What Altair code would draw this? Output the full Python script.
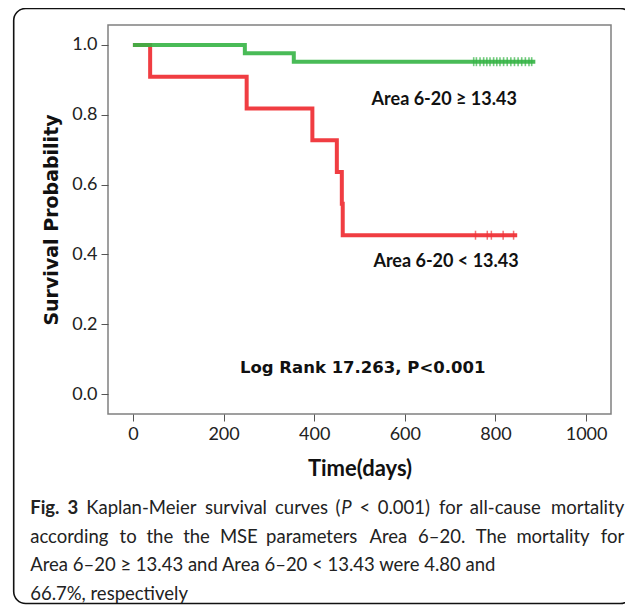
import altair as alt
import pandas as pd

# ---- data ----
green_times = [0, 247, 355, 888]
green_surv = [1.0, 0.976, 0.952, 0.952]
red_times = [0, 38, 251, 396, 450, 461, 463, 848]
red_surv = [1.0, 0.909, 0.818, 0.727, 0.636, 0.545, 0.455, 0.455]
green_censor = [752, 758, 766, 774, 781, 788, 796, 803, 810, 818, 826, 834, 842, 850, 858, 866, 874, 880]
red_censor = [756, 782, 791, 817, 840]
group_labels = ["Area 6-20 \u2265 13.43", "Area 6-20 < 13.43"]
group_colors = ["#35B445", "#EF3338"]
label_times = [687, 691]
label_surv = [0.842, 0.379]
x_ticks = [0, 200, 400, 600, 800, 1000]
y_ticks = [0.0, 0.2, 0.4, 0.6, 0.8, 1.0]
stat_text = "Log Rank 17.263, P<0.001"
stat_pos = [507, 0.075]
caption_line1 = "Fig. 3 Kaplan-Meier survival curves (P < 0.001) for all-cause mortality"
caption_line2 = "according to the the MSE parameters Area 6\u201320. The mortality for"
caption_line3 = "Area 6\u201320 \u2265 13.43 and Area 6\u201320 < 13.43 were 4.80 and"
caption_line4 = "66.7%, respectively"

W, H = 503, 389

green_df = pd.DataFrame({"t": green_times, "s": green_surv})
red_df = pd.DataFrame({"t": red_times, "s": red_surv})
gc_df = pd.DataFrame({"t": green_censor, "s": [green_surv[-1]] * len(green_censor)})
rc_df = pd.DataFrame({"t": red_censor, "s": [red_surv[-1]] * len(red_censor)})
lab_df = pd.DataFrame({"t": label_times, "s": label_surv, "label": group_labels})
stat_df = pd.DataFrame({"t": [stat_pos[0]], "s": [stat_pos[1]], "label": [stat_text]})
one = pd.DataFrame({"a": [0]})

xs = alt.Scale(domain=[-55, 1055], nice=False, zero=False)
ys = alt.Scale(domain=[-0.057, 1.057], nice=False, zero=False)
x_axis = alt.Axis(values=x_ticks, format="d", title="Time(days)", titleFont="Lato",
                  titleFontSize=22, titleFontWeight="bold", titleX=W / 2, titleY=54,
                  titleBaseline="middle", titleColor="#111", labelFont="Lato",
                  labelFontSize=18, labelColor="#222", labelPadding=4, labelFlush=False,
                  tickSize=7, tickColor="#555", domain=False, grid=False)
y_axis = alt.Axis(values=y_ticks, format=".1f", title="Survival Probability",
                  titleFont="DejaVu Sans", titleFontSize=19, titleFontWeight="bold",
                  titleAngle=270, titleX=-57, titleY=H / 2, titleBaseline="middle",
                  titleAlign="center", titleColor="#111", labelFont="Lato", labelFontSize=18,
                  labelColor="#222", labelPadding=4, tickSize=7, tickColor="#555",
                  domain=False, grid=False)
x_enc = alt.X("t:Q", scale=xs, axis=x_axis)
y_enc = alt.Y("s:Q", scale=ys, axis=y_axis)

border = alt.Chart(one).mark_rect(fillOpacity=0, stroke="#111", strokeWidth=1.6,
                                  cornerRadius=12).encode(
    x=alt.value(-94.3), x2=alt.value(524.2), y=alt.value(-16.5), y2=alt.value(578.5))

red_line = alt.Chart(red_df).mark_line(interpolate="step-after", color=group_colors[1],
                                       strokeWidth=4, opacity=0.95).encode(x=x_enc, y=y_enc)
green_line = alt.Chart(green_df).mark_line(interpolate="step-after", color=group_colors[0],
                                           strokeWidth=4, opacity=0.9).encode(x=x_enc, y=y_enc)
red_ticks = alt.Chart(rc_df).mark_tick(orient="vertical", size=9, thickness=1.5,
                                       color=group_colors[1]).encode(x=x_enc, y=y_enc)
green_ticks = alt.Chart(gc_df).mark_tick(orient="vertical", size=9, thickness=1.6,
                                         color=group_colors[0]).encode(x=x_enc, y=y_enc)
labels = alt.Chart(lab_df).mark_text(font="Lato", fontSize=18, fontWeight="bold",
                                     color="#111").encode(x=x_enc, y=y_enc, text="label:N")
stat = alt.Chart(stat_df).mark_text(font="DejaVu Sans", fontSize=16.5, fontWeight="bold",
                                    color="#111").encode(x=x_enc, y=y_enc, text="label:N")

# ---- caption layout (justified like the journal text) ----
CW = dict(a=.51, b=.56, c=.46, d=.56, e=.52, f=.32, g=.50, h=.56, i=.24, j=.24, k=.49,
          l=.24, m=.84, n=.56, o=.56, p=.56, q=.56, r=.36, s=.42, t=.35, u=.56, v=.49,
          w=.74, x=.48, y=.49, z=.45, A=.66, B=.62, C=.64, D=.72, E=.55, F=.53, G=.70,
          H=.73, I=.27, K=.62, L=.48, M=.88, N=.73, O=.77, P=.58, R=.61, S=.50, T=.56)
CW.update({d_: .58 for d_ in "0123456789"})
CW.update({" ": .19, ".": .24, ",": .24, "-": .36, "\u2013": .56, "(": .30, ")": .30,
           "<": .58, "\u2265": .58, "%": .78})
FS = 18.5
LEFT, RIGHT = 30 - 107.8, 624 - 107.8


def est(s):
    return sum(CW.get(c, .55) for c in s)


K = 534.0 / (FS * est(caption_line2))


def width(s, style):
    return est(s) * K * FS * (1.05 if style == "bold" else 1.0)


def word_segments(word, idx):
    if idx < 2 and word in ("Fig.", "3"):
        return [(word, "bold")]
    if word == "(P":
        return [("(", "normal"), ("P", "italic")]
    return [(word, "normal")]


cap_layers = []
base = dict(font="Lato", fontSize=FS, color="#222", baseline="middle")


def add_text(txt, x, y, style, align="left"):
    kw = dict(base)
    if style == "bold":
        kw["fontWeight"] = "bold"
    if style == "italic":
        kw["fontStyle"] = "italic"
    cap_layers.append(alt.Chart(one).mark_text(align=align, **kw).encode(
        x=alt.value(x), y=alt.value(y), text=alt.value(txt)))


def justified(line, y, first=False):
    words = line.split(" ")
    segs = [word_segments(w, i) if first else [(w, "normal")] for i, w in enumerate(words)]
    wws = [sum(width(t, st) for t, st in sg) for sg in segs]
    gap = (RIGHT - LEFT - sum(wws)) / (len(words) - 1)
    x = LEFT
    for i, sg in enumerate(segs):
        if i == len(segs) - 1 and len(sg) == 1:
            add_text(sg[0][0], RIGHT, y, sg[0][1], align="right")
        else:
            xx = x
            for t, st in sg:
                add_text(t, xx, y, st)
                xx += width(t, st)
        x += wws[i] + gap


Y0, DY = 483, 28.7
justified(caption_line1, Y0, first=True)
justified(caption_line2, Y0 + DY)
add_text(caption_line3, LEFT, Y0 + 2 * DY, "normal")
add_text(caption_line4, LEFT, Y0 + 3 * DY, "normal")

chart = alt.layer(border, red_line, green_line, red_ticks, green_ticks, labels, stat,
                  *cap_layers).properties(
    width=W, height=H,
    autosize=alt.AutoSizeParams(type="none"),
    padding={"left": 100, "top": 17, "right": 14, "bottom": 199},
    background="white",
).configure_view(stroke="#808080", strokeWidth=1.5)

chart.save("out.html", embed_options={"renderer": "svg", "actions": False})
